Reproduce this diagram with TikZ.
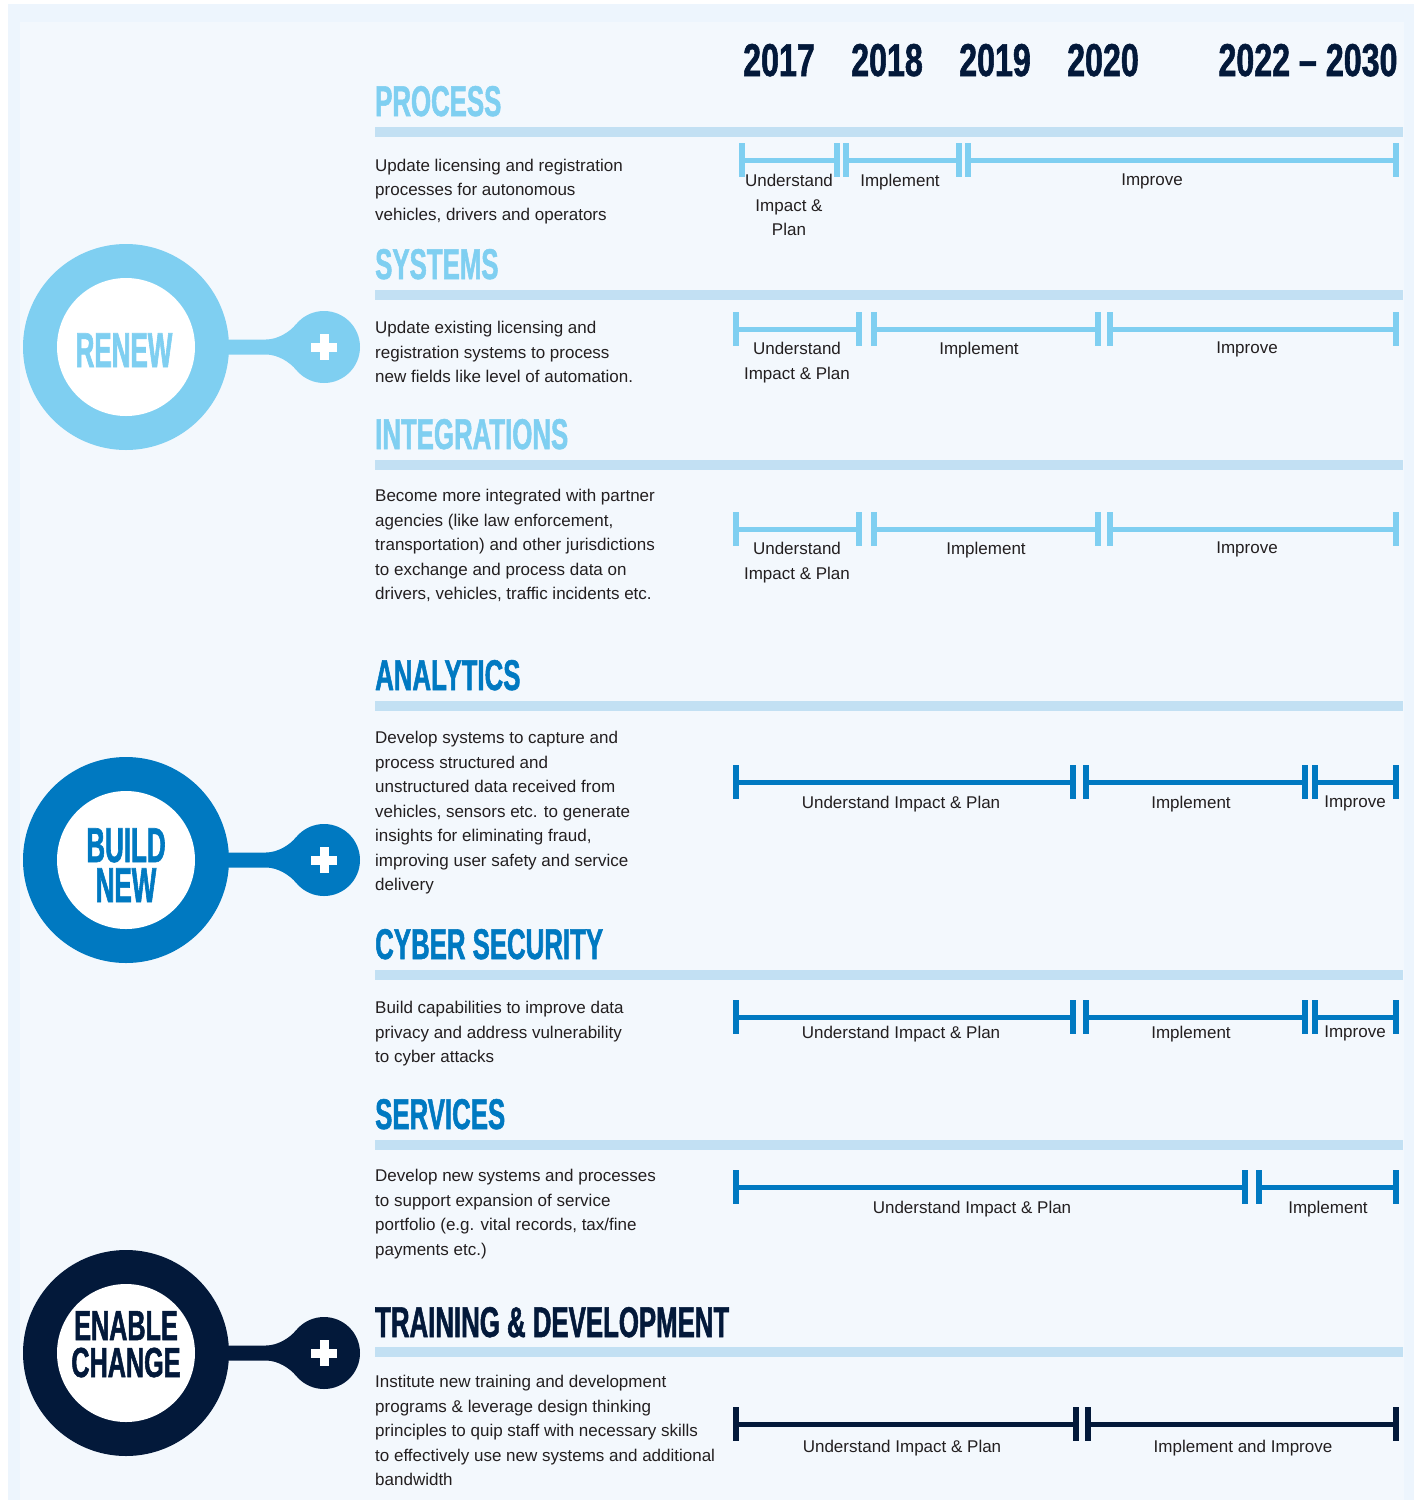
\documentclass[tikz,border=0pt]{standalone}
\usepackage{fontspec}
\usepackage{tikz}
\setmainfont{Liberation Sans}
\newfontfamily\headfont{Liberation Sans}[FakeStretch=0.6,FakeBold=1.2]
\newfontfamily\ringfont{Liberation Sans}[FakeStretch=0.53,FakeBold=1.2]
\newfontfamily\yearfont{Liberation Sans}[FakeStretch=0.7,FakeBold=1.2]

\definecolor{renewc}{HTML}{7FCFF1}
\definecolor{buildc}{HTML}{0079C1}
\definecolor{enablec}{HTML}{03193A}
\definecolor{sepc}{HTML}{C2E0F3}
\definecolor{txtc}{HTML}{231F20}
\definecolor{panelc}{HTML}{F3F8FD}
\definecolor{bandc}{HTML}{EDF5FD}

\begin{document}
\begin{tikzpicture}[x=1pt, y=-1pt,
	head/.style={anchor=base west, inner sep=0, font=\headfont\bfseries\fontsize{43}{43}\selectfont},
	desc/.style={anchor=north west, inner sep=0, align=left, text=txtc, font=\fontsize{17}{24.5}\selectfont},
	phase/.style={anchor=north, inner sep=0, align=center, text=txtc, font=\fontsize{17}{24.5}\selectfont},
	year/.style={anchor=base, inner sep=0, text=enablec, font=\yearfont\bfseries\fontsize{46}{46}\selectfont},
	ring/.style={anchor=base, inner sep=0, font=\ringfont\bfseries\fontsize{49}{49}\selectfont},
	span/.style={line width=5},
	stop/.style={line width=6}]
	\useasboundingbox (0,0) rectangle (1418,1500);
	\fill[white] (0,0) rectangle (1418,1500);
	\fill[bandc] (8,4) rectangle (1414,1500);
	\fill[panelc] (20,22) rectangle (1404,1500);

	\node[year] (y17) at (779,76) {2017};
	\node[year] (y18) at (887,76) {2018};
	\node[year] (y19) at (995,76) {2019};
	\node[year] (y20) at (1103,76) {2020};
	\node[year] (y22) at (1308,76) {2022 – 2030};

	\begin{scope}[shift={(0,347)}]
		\fill[renewc] (126,0) circle [radius=103];
		\fill[white] (126,0) circle [radius=69];
		\fill[renewc] (324,0) circle [radius=36];
		\fill[renewc] (220,-7.5) -- (266,-7.5) .. controls (278,-7.5) and (290,-15.3) .. (296.3,-23) -- (324,0) -- (296.3,23) .. controls (290,15.3) and (278,7.5) .. (266,7.5) -- (220,7.5) -- cycle;
		\fill[white] (311,-4.5) rectangle (337,4.5);
		\fill[white] (319.5,-13) rectangle (328.5,13);
		\node[ring, text=renewc] (renew) at (124,20) {RENEW};
	\end{scope}

	\begin{scope}[shift={(0,860)}]
		\fill[buildc] (126,0) circle [radius=103];
		\fill[white] (126,0) circle [radius=69];
		\fill[buildc] (324,0) circle [radius=36];
		\fill[buildc] (220,-7.5) -- (266,-7.5) .. controls (278,-7.5) and (290,-15.3) .. (296.3,-23) -- (324,0) -- (296.3,23) .. controls (290,15.3) and (278,7.5) .. (266,7.5) -- (220,7.5) -- cycle;
		\fill[white] (311,-4.5) rectangle (337,4.5);
		\fill[white] (319.5,-13) rectangle (328.5,13);
		\node[ring, text=buildc] (build) at (126,2) {BUILD};
		\node[ring, text=buildc] (new) at (126,42) {NEW};
	\end{scope}

	\begin{scope}[shift={(0,1353)}]
		\fill[enablec] (126,0) circle [radius=103];
		\fill[white] (126,0) circle [radius=69];
		\fill[enablec] (324,0) circle [radius=36];
		\fill[enablec] (220,-7.5) -- (266,-7.5) .. controls (278,-7.5) and (290,-15.3) .. (296.3,-23) -- (324,0) -- (296.3,23) .. controls (290,15.3) and (278,7.5) .. (266,7.5) -- (220,7.5) -- cycle;
		\fill[white] (311,-4.5) rectangle (337,4.5);
		\fill[white] (319.5,-13) rectangle (328.5,13);
		\node[ring, text=enablec, font=\headfont\bfseries\fontsize{42}{42}\selectfont] (enable) at (126,-13) {ENABLE};
		\node[ring, text=enablec, font=\headfont\bfseries\fontsize{42}{42}\selectfont] (change) at (126,24) {CHANGE};
	\end{scope}

	\node[head, text=renewc] (proc) at (375,116) {PROCESS};
	\fill[sepc] (375,127) rectangle (1403,137);
	\node[desc] (proc-txt) at (375,158.5) {Update licensing and registration\\processes for autonomous\\vehicles, drivers and operators};
	\draw[span, renewc] (742,160) -- (837,160) (846,160) -- (959,160) (968,160) -- (1396,160);
	\foreach \x in {742,837,846,959,968,1396} \draw[stop, renewc] (\x,143) -- (\x,177);
	\node[phase] (proc-a) at (789,174) {Understand\\Impact \&\\Plan};
	\node[phase] (proc-b) at (900,174) {Implement};
	\node[phase] (proc-c) at (1152,174) {Improve};

	\node[head, text=renewc] (sys) at (375,279) {SYSTEMS};
	\fill[sepc] (375,290) rectangle (1403,300);
	\node[desc] (sys-txt) at (375,321) {Update existing licensing and\\registration systems to process\\new fields like level of automation.};
	\draw[span, renewc] (736,329) -- (859,329) (874,329) -- (1098,329) (1110,329) -- (1396,329);
	\foreach \x in {736,859,874,1098,1110,1396} \draw[stop, renewc] (\x,312) -- (\x,346);
	\node[phase] (sys-a) at (797,342) {Understand\\Impact \& Plan};
	\node[phase] (sys-b) at (979,342) {Implement};
	\node[phase] (sys-c) at (1247,342) {Improve};

	\node[head, text=renewc] (integ) at (375,449) {INTEGRATIONS};
	\fill[sepc] (375,460) rectangle (1403,470);
	\node[desc] (integ-txt) at (375,489) {Become more integrated with partner\\agencies (like law enforcement,\\transportation) and other jurisdictions\\to exchange and process data on\\drivers, vehicles, traffic incidents etc.};
	\draw[span, renewc] (736,529) -- (859,529) (874,529) -- (1098,529) (1110,529) -- (1396,529);
	\foreach \x in {736,859,874,1098,1110,1396} \draw[stop, renewc] (\x,512) -- (\x,546);
	\node[phase] (integ-a) at (797,542) {Understand\\Impact \& Plan};
	\node[phase] (integ-b) at (986,542) {Implement};
	\node[phase] (integ-c) at (1247,542) {Improve};

	\node[head, text=buildc] (anly) at (375,690) {ANALYTICS};
	\fill[sepc] (375,701) rectangle (1403,711);
	\node[desc] (anly-txt) at (375,731) {Develop systems to capture and\\process structured and\\unstructured data received from\\vehicles, sensors etc. to generate\\insights for eliminating fraud,\\improving user safety and service\\delivery};
	\draw[span, buildc] (736,782) -- (1073,782) (1086,782) -- (1305,782) (1315,782) -- (1396,782);
	\foreach \x in {736,1073,1086,1305,1315,1396} \draw[stop, buildc] (\x,765) -- (\x,799);
	\node[phase] (anly-a) at (901,796) {Understand Impact \& Plan};
	\node[phase] (anly-b) at (1191,796) {Implement};
	\node[phase] (anly-c) at (1355,796) {Improve};

	\node[head, text=buildc] (cyber) at (375,959) {CYBER SECURITY};
	\fill[sepc] (375,970) rectangle (1403,980);
	\node[desc] (cyber-txt) at (375,1001) {Build capabilities to improve data\\privacy and address vulnerability\\to cyber attacks};
	\draw[span, buildc] (736,1017) -- (1073,1017) (1086,1017) -- (1305,1017) (1315,1017) -- (1396,1017);
	\foreach \x in {736,1073,1086,1305,1315,1396} \draw[stop, buildc] (\x,1000) -- (\x,1034);
	\node[phase] (cyber-a) at (901,1026) {Understand Impact \& Plan};
	\node[phase] (cyber-b) at (1191,1026) {Implement};
	\node[phase] (cyber-c) at (1355,1026) {Improve};

	\node[head, text=buildc] (serv) at (375,1129) {SERVICES};
	\fill[sepc] (375,1140) rectangle (1403,1150);
	\node[desc] (serv-txt) at (375,1169) {Develop new systems and processes\\to support expansion of service\\portfolio (e.g. vital records, tax/fine\\payments etc.)};
	\draw[span, buildc] (736,1187) -- (1245,1187) (1259,1187) -- (1396,1187);
	\foreach \x in {736,1245,1259,1396} \draw[stop, buildc] (\x,1170) -- (\x,1204);
	\node[phase] (serv-a) at (972,1201) {Understand Impact \& Plan};
	\node[phase] (serv-b) at (1328,1201) {Implement};

	\node[head, text=enablec] (train) at (375,1337) {TRAINING \& DEVELOPMENT};
	\fill[sepc] (375,1347) rectangle (1403,1357);
	\node[desc] (train-txt) at (375,1375) {Institute new training and development\\programs \& leverage design thinking\\principles to quip staff with necessary skills\\to effectively use new systems and additional\\bandwidth};
	\draw[span, enablec] (736,1424) -- (1076,1424) (1088,1424) -- (1396,1424);
	\foreach \x in {736,1076,1088,1396} \draw[stop, enablec] (\x,1407) -- (\x,1441);
	\node[phase] (train-a) at (902,1440) {Understand Impact \& Plan};
	\node[phase] (train-b) at (1243,1440) {Implement and Improve};
\end{tikzpicture}
\end{document}
